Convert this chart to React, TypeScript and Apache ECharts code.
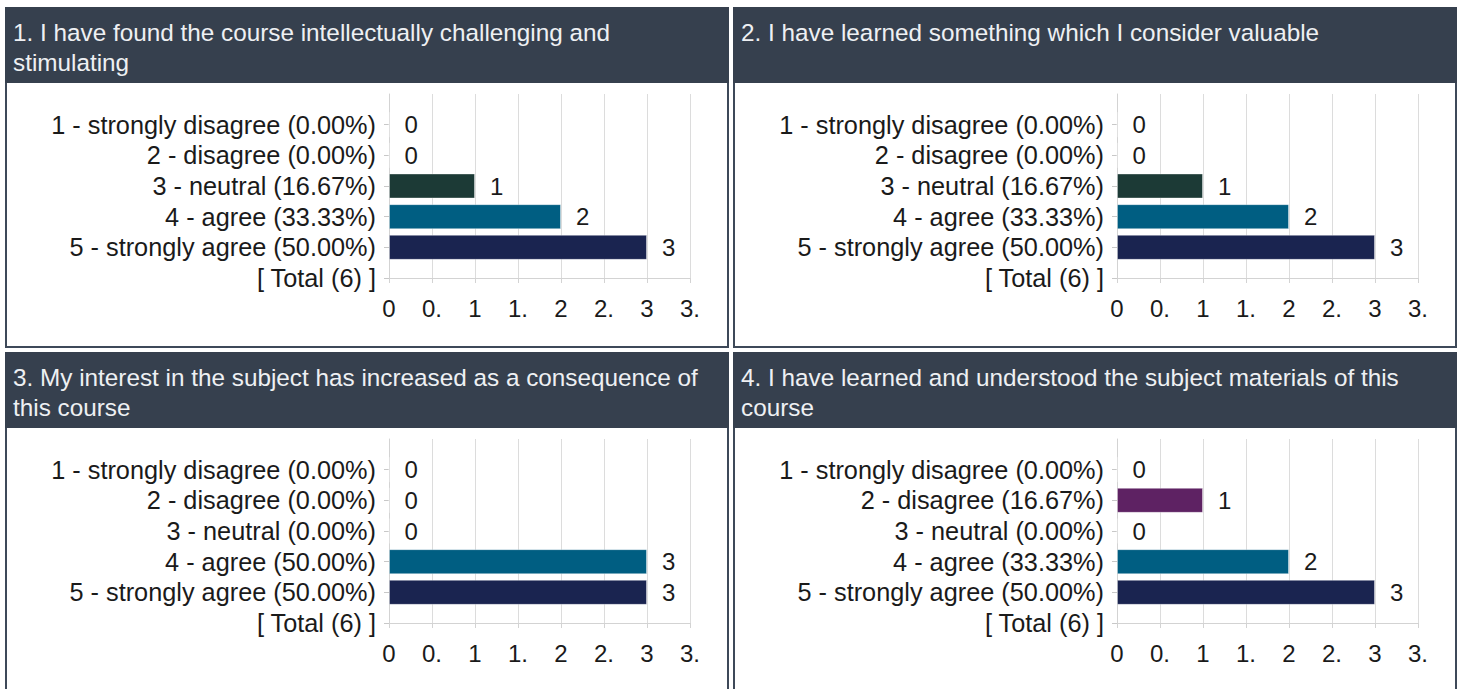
import React, { useEffect, useRef } from "react";
import * as echarts from "echarts";

const titles = [
  "1. I have found the course intellectually challenging and\nstimulating",
  "2. I have learned something which I consider valuable",
  "3. My interest in the subject has increased as a consequence of\nthis course",
  "4. I have learned and understood the subject materials of this\ncourse",
];

const categories1 = [
  "1 - strongly disagree (0.00%)",
  "2 - disagree (0.00%)",
  "3 - neutral (16.67%)",
  "4 - agree (33.33%)",
  "5 - strongly agree (50.00%)",
  "[ Total (6) ]",
];
const categories2 = [
  "1 - strongly disagree (0.00%)",
  "2 - disagree (0.00%)",
  "3 - neutral (16.67%)",
  "4 - agree (33.33%)",
  "5 - strongly agree (50.00%)",
  "[ Total (6) ]",
];
const categories3 = [
  "1 - strongly disagree (0.00%)",
  "2 - disagree (0.00%)",
  "3 - neutral (0.00%)",
  "4 - agree (50.00%)",
  "5 - strongly agree (50.00%)",
  "[ Total (6) ]",
];
const categories4 = [
  "1 - strongly disagree (0.00%)",
  "2 - disagree (16.67%)",
  "3 - neutral (0.00%)",
  "4 - agree (33.33%)",
  "5 - strongly agree (50.00%)",
  "[ Total (6) ]",
];

const values1 = [0, 0, 1, 2, 3];
const values2 = [0, 0, 1, 2, 3];
const values3 = [0, 0, 0, 3, 3];
const values4 = [0, 1, 0, 2, 3];

const xTickLabels = ["0", "0.", "1", "1.", "2", "2.", "3", "3."];

const barColors = ["#7a2a2a", "#5e2263", "#1c3a36", "#005e82", "#1a2450"];

const FONT = "'Liberation Sans', Arial, sans-serif";
const TEXT_COLOR = "#1a1a1a";
const HEADER_BG = "#36404e";
const BORDER = "#3e4959";

const panels = [
  { x: 5, y: 7, title: titles[0], cats: categories1, vals: values1 },
  { x: 733, y: 7, title: titles[1], cats: categories2, vals: values2 },
  { x: 5, y: 352, title: titles[2], cats: categories3, vals: values3 },
  { x: 733, y: 352, title: titles[3], cats: categories4, vals: values4 },
];

const PANEL_W = 724;
const PANEL_H = 341;
const HEADER_H = 76;

export default function App() {
  const ref = useRef<HTMLDivElement>(null);
  useEffect(() => {
    document.body.style.margin = "0";
    const chart = echarts.init(ref.current!, undefined, { renderer: "svg" });

    const grids: any[] = [];
    const xAxes: any[] = [];
    const yAxes: any[] = [];
    const series: any[] = [];
    const graphics: any[] = [];

    panels.forEach((p, i) => {
      graphics.push({
        type: "rect",
        z: 0,
        shape: { x: p.x + 1, y: p.y + 1, width: PANEL_W - 2, height: PANEL_H - 2 },
        style: { fill: "#ffffff", stroke: BORDER, lineWidth: 2 },
      });
      graphics.push({
        type: "rect",
        z: 1,
        shape: { x: p.x, y: p.y, width: PANEL_W, height: HEADER_H },
        style: { fill: HEADER_BG },
      });
      graphics.push({
        type: "text",
        z: 2,
        x: p.x + 8,
        y: p.y + 10,
        style: {
          text: p.title,
          fill: "#eef0f3",
          font: `24.3px ${FONT}`,
          lineHeight: 30,
          verticalAlign: "top",
          align: "left",
        },
      });

      const gridLeft = p.x + 384;
      const gridTop = p.y + 87;
      grids.push({ left: gridLeft, top: gridTop, width: 301, height: 184, containLabel: false });

      xAxes.push({
        type: "value",
        gridIndex: i,
        min: 0,
        max: 3.5,
        interval: 0.5,
        axisLine: { show: true, lineStyle: { color: "#d3d3d3", width: 1 } },
        axisTick: { show: true, length: 5, lineStyle: { color: "#d3d3d3" } },
        splitLine: { show: true, lineStyle: { color: "#dcdcdc", width: 1 } },
        axisLabel: {
          margin: 18,
          color: TEXT_COLOR,
          fontFamily: FONT,
          fontSize: 24,
          formatter: (v: number) => xTickLabels[Math.round(v / 0.5)] ?? "",
        },
      });

      const fullCats = ["", ...p.cats];
      yAxes.push({
        type: "category",
        gridIndex: i,
        inverse: true,
        boundaryGap: false,
        data: fullCats,
        axisLine: { show: true, lineStyle: { color: "#d3d3d3", width: 1 } },
        axisTick: {
          show: true,
          length: 5,
          alignWithLabel: true,
          interval: (idx: number) => idx !== 0,
          lineStyle: { color: "#c8c8c8" },
        },
        splitLine: { show: false },
        axisLabel: {
          margin: 13,
          color: TEXT_COLOR,
          fontFamily: FONT,
          fontSize: 25.3,
          interval: 0,
          padding: [0, 0, 2, 0],
        },
      });

      series.push({
        type: "bar",
        xAxisIndex: i,
        yAxisIndex: i,
        barWidth: 25,
        data: [
          null,
          ...p.vals.map((v, k) => ({
            value: v,
            itemStyle: { color: barColors[k], borderColor: "rgba(255,255,255,0.35)", borderWidth: 1 },
          })),
          null,
        ],
        label: {
          show: true,
          position: "right",
          distance: 15,
          color: TEXT_COLOR,
          fontFamily: FONT,
          fontSize: 24,
        },
      });
    });

    chart.setOption({
      animation: false,
      backgroundColor: "#ffffff",
      grid: grids,
      xAxis: xAxes,
      yAxis: yAxes,
      series,
      graphic: { elements: graphics },
    });

    return () => chart.dispose();
  }, []);

  return <div ref={ref} style={{ position: "fixed", left: 0, top: 0, width: 1464, height: 689 }} />;
}
